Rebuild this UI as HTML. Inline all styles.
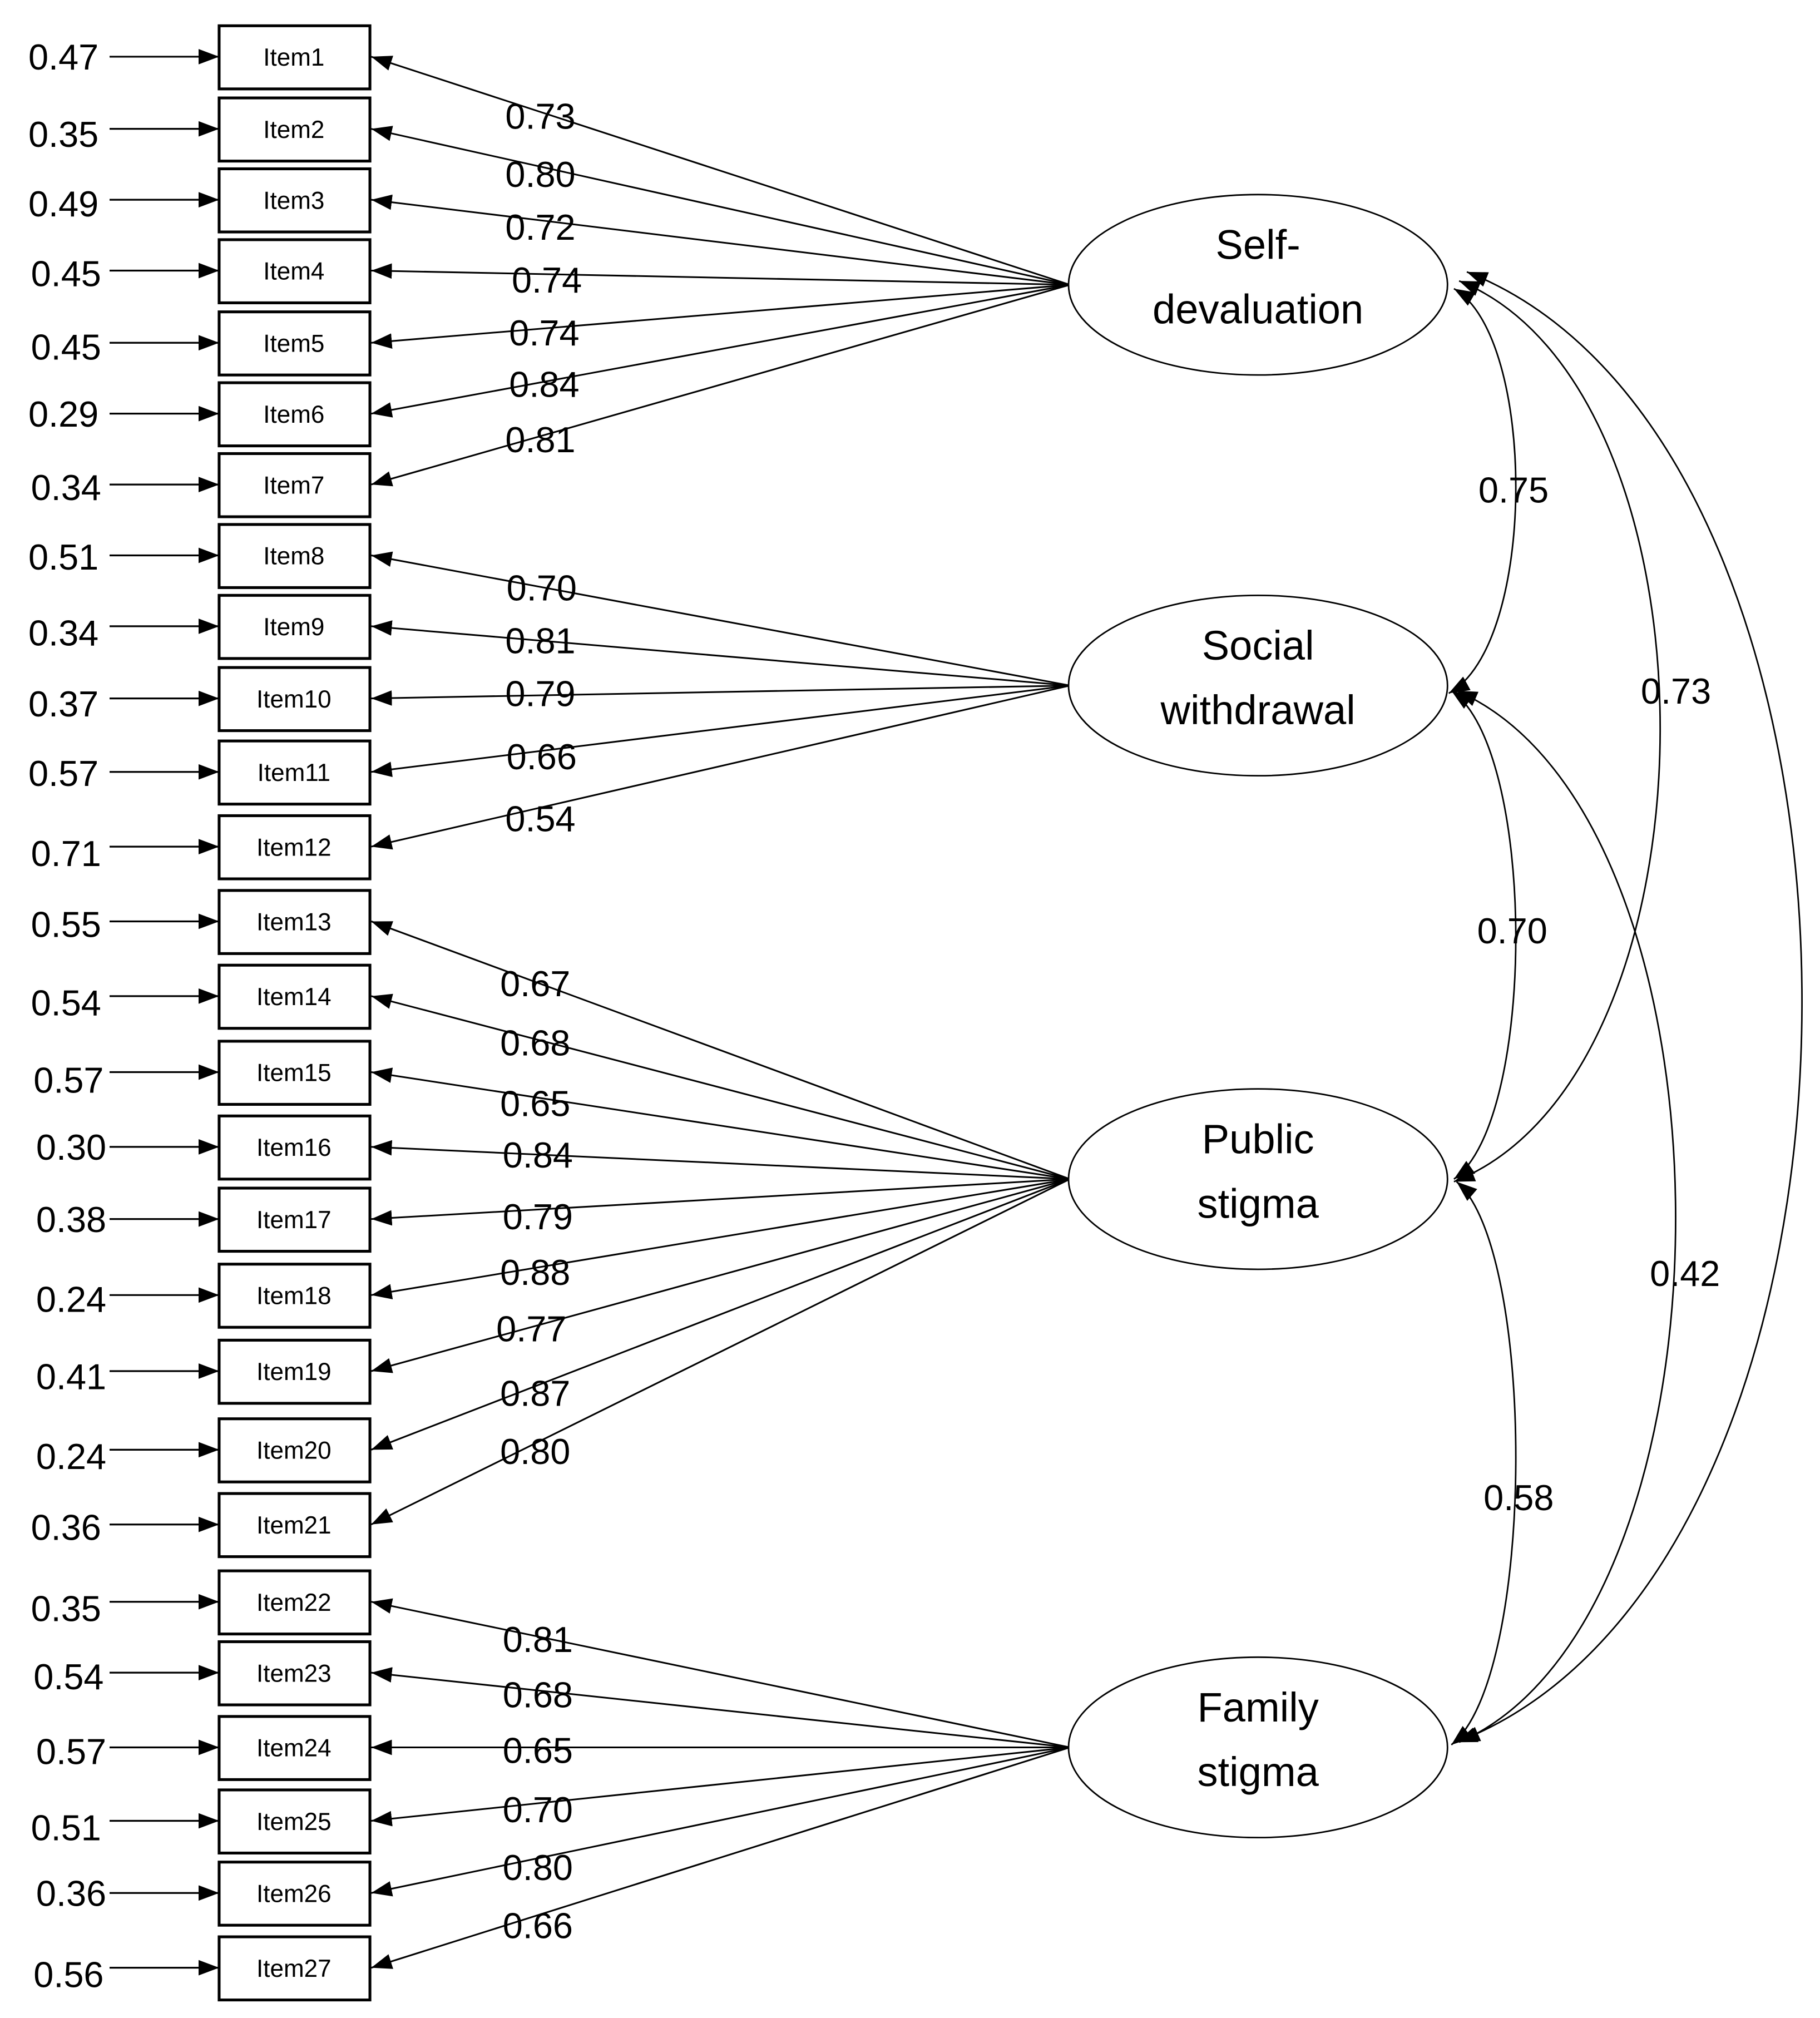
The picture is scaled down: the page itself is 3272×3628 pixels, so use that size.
<!DOCTYPE html>
<html><head><meta charset="utf-8"><style>
html,body{margin:0;padding:0;background:#fff;}
svg{display:block;}
text{font-family:"Liberation Sans",sans-serif;fill:#000;}
</style></head><body>
<svg width="3272" height="3628" viewBox="0 0 1412 1566" preserveAspectRatio="none" xmlns="http://www.w3.org/2000/svg">
<defs>
<marker id="a" viewBox="0 0 16 12" refX="16" refY="6" markerWidth="16" markerHeight="12" markerUnits="userSpaceOnUse" orient="auto-start-reverse">
<path d="M0,0 L16,6 L0,12 z" fill="#000"/></marker>
</defs>
<g id="boxes" fill="#fff" stroke="#000" stroke-width="2.2"></g>
<g id="rest"></g>
</svg>
<script>
const NS="http://www.w3.org/2000/svg";
const svg=document.querySelector('svg');
function el(t,at,txt,parent){const e=document.createElementNS(NS,t);for(const k in at)e.setAttribute(k,at[k]);if(txt!==undefined)e.textContent=txt;(parent||svg).appendChild(e);return e;}
const ys=[44,100,155,210,266,321,376,431,486,542,599,657,715,773,832,890,946,1005,1064,1125,1183,1243,1298,1356,1413,1469,1527];
const errs=[["0.47",22,44],["0.35",22,104],["0.49",22,158],["0.45",24,212],["0.45",24,269],["0.29",22,321],["0.34",24,378],["0.51",22,432],["0.34",22,491],["0.37",22,546],["0.57",22,600],["0.71",24,662],["0.55",24,717],["0.54",24,778],["0.57",26,838],["0.30",28,890],["0.38",28,946],["0.24",28,1008],["0.41",28,1068],["0.24",28,1130],["0.36",24,1185],["0.35",24,1248],["0.54",26,1301],["0.57",28,1359],["0.51",24,1418],["0.36",28,1469],["0.56",26,1532]];
const lat=[221,221,221,221,221,221,221,532,532,532,532,532,915,915,915,915,915,915,915,915,915,1356,1356,1356,1356,1356,1356];
const loads=[["0.73",392,90],["0.80",392,135],["0.72",392,176],["0.74",397,217],["0.74",395,258],["0.84",395,298],["0.81",392,341],["0.70",393,456],["0.81",392,497],["0.79",392,538],["0.66",393,587],["0.54",392,635],["0.67",388,763],["0.68",388,809],["0.65",388,856],["0.84",390,896],["0.79",390,944],["0.88",388,987],["0.77",385,1031],["0.87",388,1081],["0.80",388,1126],["0.81",390,1272],["0.68",390,1315],["0.65",390,1358],["0.70",390,1404],["0.80",390,1449],["0.66",390,1494]];
const boxes=document.getElementById('boxes');
ys.forEach((y,i)=>{
  el('rect',{x:170,y:y-24,width:117,height:49},undefined,boxes);
  el('text',{x:228,y:y+7,'font-size':19,'text-anchor':'middle'},'Item'+(i+1));
  el('line',{x1:85,y1:y,x2:170,y2:y,stroke:'#000','stroke-width':1.4,'marker-end':'url(#a)'});
  el('text',{x:errs[i][1],y:errs[i][2]+10,'font-size':28},errs[i][0]);
  el('line',{x1:830,y1:lat[i],x2:288,y2:y,stroke:'#000','stroke-width':1.3,'marker-end':'url(#a)'});
  el('text',{x:loads[i][1],y:loads[i][2]+10,'font-size':28},loads[i][0]);
});
const ells=[[221,"Self-","devaluation"],[532,"Social","withdrawal"],[915,"Public","stigma"],[1356,"Family","stigma"]];
ells.forEach(e=>{
  el('ellipse',{cx:976,cy:e[0],rx:147,ry:70,fill:'#fff',stroke:'#000','stroke-width':1.2});
  el('text',{x:976,y:e[0]-20,'font-size':32,'text-anchor':'middle'},e[1]);
  el('text',{x:976,y:e[0]+30,'font-size':32,'text-anchor':'middle'},e[2]);
});
function cov(x1,y1,x2,y2,B){const c1=(B-0.125*x1-0.125*x2)/0.75;
  const dy=(y2-y1)*0.12;
  el('path',{d:`M${x1},${y1} C${c1},${y1+dy} ${c1},${y2-dy} ${x2},${y2}`,fill:'none',stroke:'#000','stroke-width':1.2,'marker-start':'url(#a)','marker-end':'url(#a)'});}
cov(1128,224,1124,538,1176);
cov(1132,218,1128,917,1288);
cov(1138,211,1130,1352,1398);
cov(1126,536,1128,915,1176);
cov(1130,536,1132,1352,1300);
cov(1130,917,1126,1354,1176);
[["0.75",1147,380],["0.73",1273,536],["0.70",1146,722],["0.42",1280,988],["0.58",1151,1162]].forEach(l=>el('text',{x:l[1],y:l[2]+10,'font-size':28},l[0]));
</script>
</body></html>
